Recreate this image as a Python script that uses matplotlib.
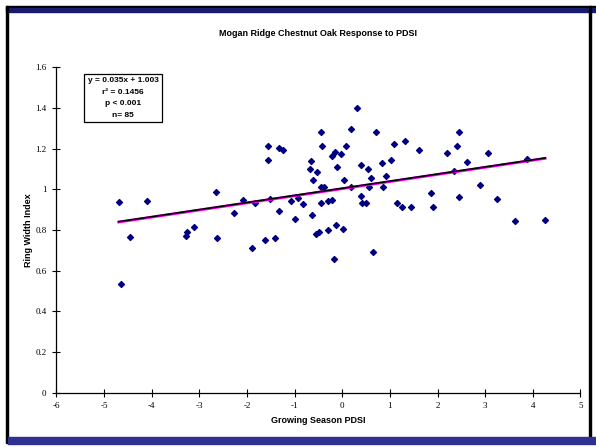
import numpy as np
import matplotlib.pyplot as plt
from matplotlib.patches import Rectangle

# growing season PDSI vs ring width index
pdsi = [-4.69, -4.64, -4.45, -4.10, -3.28, -3.25, -3.11, -2.64, -2.62, -2.27,
        -2.08, -1.90, -1.83, -1.63, -1.56, -1.51, -1.41, -1.32, -1.24, -1.07,
        -0.99, -0.93, -1.55, -1.32, -0.82, -0.63, -0.54, -0.48, -0.44, -0.42,
        -0.66, -0.67, -0.53, -0.62, -0.45, -0.38, -0.44, -0.29, -0.29, -0.21,
        -0.21, -0.15, -0.03, -0.10, -0.13, 0.02, -0.18, 0.04, 0.07, 0.18,
        0.31, 0.19, 0.39, 0.39, 0.41, 0.50, 0.54, 0.60, 0.56, 0.65,
        0.70, 0.83, 0.91, 0.85, 1.02, 1.08, 1.32, 1.16, 1.26, 1.44,
        1.61, 1.86, 1.91, 2.19, 2.45, 2.41, 2.61, 3.05, 2.34, 2.46,
        2.89, 3.25, 3.62, 4.26, 3.87]
rwi = [0.939, 0.533, 0.764, 0.942, 0.772, 0.791, 0.816, 0.985, 0.760, 0.883,
       0.946, 0.710, 0.931, 0.749, 1.143, 0.951, 0.760, 0.892, 1.193, 0.942,
       0.855, 0.957, 1.214, 1.202, 0.928, 0.875, 0.780, 0.788, 1.280, 1.214,
       1.139, 1.100, 1.085, 1.046, 1.013, 1.013, 0.934, 0.800, 0.944, 0.947,
       1.162, 1.182, 1.175, 1.111, 0.824, 0.803, 0.659, 1.046, 1.214, 1.297,
       1.400, 1.013, 1.120, 0.967, 0.931, 0.931, 1.100, 1.056, 1.010, 0.693,
       1.282, 1.131, 1.065, 1.013, 1.143, 1.223, 1.238, 0.931, 0.911, 0.911,
       1.193, 0.982, 0.914, 1.180, 1.280, 1.214, 1.136, 1.179, 1.092, 0.962,
       1.021, 0.954, 0.844, 0.848, 1.148]

# trendline as given on the chart
slope = 0.035
intercept = 1.003
stats_text = "y = 0.035x + 1.003\nr\u00b2 = 0.1456\np < 0.001\nn= 85"

xticks = np.arange(-6, 6, 1)
yticks = np.arange(0, 1.61, 0.2)
ytick_labels = ["0", "0.2", "0.4", "0.6", "0.8", "1", "1.2", "1.4", "1.6"]

fig = plt.figure(figsize=(5.96, 4.47), dpi=100)

# slide-like frame: dark bands top and bottom, black lines left and right
frame = fig.add_axes([0, 0, 1, 1])
frame.set_xlim(0, 596)
frame.set_ylim(447, 0)
frame.axis("off")
frame.add_patch(Rectangle((6, 6), 590, 2, color="black"))
frame.add_patch(Rectangle((6, 8), 590, 4, color="#1a1a6e"))
frame.add_patch(Rectangle((6, 6), 2, 437, color="black"))
frame.add_patch(Rectangle((589, 6), 2, 437, color="black"))
frame.add_patch(Rectangle((8, 437), 588, 7, color="#2e3192"))

ax = fig.add_axes([0.0945, 0.1217, 0.8794, 0.7277])
ax.set_facecolor("none")
ax.scatter(pdsi, rwi, marker="D", s=9, color="#000080", zorder=3)

xl = np.array([min(pdsi), max(pdsi)])
ax.plot(xl, slope * xl + intercept, color="#ff00ff", lw=2.0, zorder=4)
ax.plot(xl, slope * xl + intercept + 0.002, color="black", lw=1.2, zorder=5)

ax.set_xlim(-6, 5)
ax.set_ylim(0, 1.6)
ax.set_xticks(xticks)
ax.set_yticks(yticks)
ax.set_xticklabels([str(t) for t in xticks], family="Liberation Serif", fontsize=6.5)
ax.set_yticklabels(ytick_labels, family="Liberation Serif", fontsize=6.5)
ax.tick_params(direction="inout", length=6, width=0.8, pad=4)
for s in ["top", "right"]:
    ax.spines[s].set_visible(False)
for s in ["left", "bottom"]:
    ax.spines[s].set_linewidth(0.9)

ax.set_xlabel("Growing Season PDSI", family="Liberation Sans", fontsize=6.5,
              fontweight="bold", labelpad=4)
ax.set_ylabel("Ring Width Index", family="Liberation Sans", fontsize=6.5,
              fontweight="bold", labelpad=2)
fig.text(0.533, 0.926, "Mogan Ridge Chestnut Oak Response to PDSI",
         family="Liberation Sans", fontsize=6.5, fontweight="bold",
         ha="center", va="center")

ax.text(-4.6, 1.449, stats_text, family="Liberation Sans", fontsize=6,
        fontweight="bold", ha="center", va="center", linespacing=1.9,
        bbox=dict(boxstyle="square,pad=0.4", facecolor="white",
                  edgecolor="black", linewidth=0.9))

fig.savefig("out.png", dpi=100)
